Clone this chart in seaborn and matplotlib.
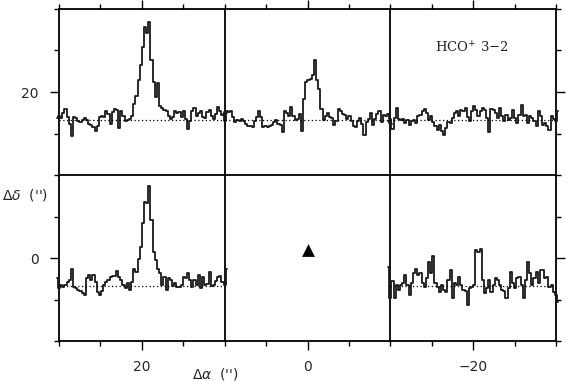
import numpy as np
import pandas as pd
import matplotlib
matplotlib.use("Agg")
import matplotlib.pyplot as plt
from matplotlib.ticker import FixedLocator, MultipleLocator
import seaborn as sns

sns.set_style("ticks")
plt.rcParams['font.family'] = ['DejaVu Sans']

# ---------------- data ----------------
x_major = [20, 0, -20]
y_major = [0, 20]
x_label = r"$\Delta\alpha$  ('')"
y_label = r"$\Delta\delta$  ('')"
line_label = "HCO$^{+}$ 3\u22122"

# panel centres (offsets in arcsec)
panel_ra = [20, 0, -20, 20, -20]
panel_dec = [20, 20, 20, 0, 0]
panel_names = ["tl", "tm", "tr", "bl", "br"]

source_ra = [0]
source_dec = [1]

spec_tl = [0.03, 0.07, 0.03, 0.12, 0.19, 0.04, -0.08, -0.29, 0.05, 0.03,
           -0.02, -0.05, -0.01, 0.03, -0.01, -0.07, -0.09, -0.14, -0.21, -0.11,
           0.04, 0.07, 0.05, 0.15, 0.10, -0.07, 0.13, 0.19, 0.18, -0.15,
           0.15, 0.07, -0.02, -0.01, 0.01, 0.07, 0.28, 0.42, 0.71, 0.98,
           1.32, 1.68, 1.56, 1.76, 1.08, 0.68, 0.41, 0.66, 0.24, 0.21,
           0.18, 0.15, 0.07, 0.01, 0.05, 0.16, 0.12, 0.13, 0.05, 0.15,
           0.01, -0.17, -0.03, 0.16, 0.21, 0.07, 0.12, 0.15, 0.05, 0.03,
           0.13, 0.18, 0.07, 0.01, 0.10, 0.22, 0.15, 0.09, -0.02, 0.12]
spec_tm = [0.10, 0.13, 0.16, 0.13, 0.16, 0.04, -0.05, -0.01, -0.03, 0.01,
           -0.03, -0.07, -0.11, -0.11, -0.13, -0.03, 0.04, 0.16, 0.04, -0.13,
           -0.11, -0.13, -0.12, -0.09, -0.05, -0.01, -0.07, -0.09, -0.23, 0.16,
           0.12, 0.07, 0.22, 0.07, -0.01, 0.01, 0.10, -0.20, 0.38, 0.68,
           0.71, 0.74, 0.80, 1.07, 0.71, 0.56, 0.19, -0.01, 0.07, 0.12,
           0.04, 0.03, -0.09, -0.02, 0.19, 0.15, 0.10, 0.09, 0.01, 0.07,
           -0.03, -0.11, -0.14, -0.02, 0.03, -0.07, -0.27, -0.05, 0.01, 0.12,
           -0.09, 0.01, 0.10, 0.16, -0.05, 0.09, 0.07, 0.10, 0.01, -0.07]
spec_tr = [-0.03, -0.06, -0.16, 0.03, 0.21, 0.02, 0.00, 0.02, -0.06, 0.00,
           -0.09, -0.02, 0.00, -0.06, 0.06, 0.09, 0.15, 0.20, 0.12, 0.00,
           0.06, -0.04, -0.12, -0.18, -0.09, -0.21, -0.28, -0.15, -0.04, -0.06,
           0.03, 0.12, 0.16, 0.06, 0.18, 0.15, 0.21, 0.04, -0.03, 0.15,
           0.24, 0.18, 0.06, 0.15, 0.21, 0.18, 0.03, -0.22, 0.20, 0.18,
           0.12, 0.03, 0.21, 0.06, -0.03, 0.09, 0.00, 0.03, 0.18, 0.03,
           -0.06, 0.09, 0.26, 0.06, 0.08, -0.06, 0.06, 0.03, -0.03, -0.12,
           0.15, 0.06, -0.09, -0.06, -0.12, -0.18, 0.06, 0.02, -0.03, 0.15]
spec_bl = [0.13, -0.05, 0.01, -0.03, 0.01, 0.07, 0.10, 0.31, -0.02, -0.05,
           -0.07, -0.09, -0.14, -0.17, 0.13, 0.19, 0.10, 0.19, 0.07, -0.11,
           -0.17, -0.09, 0.01, 0.07, 0.11, 0.15, 0.17, 0.17, 0.27, 0.16,
           0.10, 0.01, -0.05, 0.04, -0.07, 0.07, 0.30, 0.25, 0.49, 0.70,
           1.13, 1.52, 1.50, 1.80, 1.19, 0.61, 0.46, 0.30, 0.22, 0.01,
           0.16, -0.07, 0.13, 0.10, -0.01, 0.04, -0.03, -0.02, 0.01, 0.16,
           0.13, 0.22, 0.10, -0.02, 0.10, 0.01, 0.19, -0.05, 0.16, 0.01,
           0.03, 0.25, -0.01, 0.01, 0.09, 0.16, 0.17, 0.07, 0.01, 0.30]
spec_br = [0.34, -0.23, 0.09, -0.23, 0.01, -0.07, 0.01, 0.04, 0.19, 0.01,
           -0.17, 0.04, 0.22, 0.31, 0.19, 0.22, 0.04, -0.02, 0.13, 0.43,
           0.23, 0.54, 0.04, -0.02, -0.11, 0.01, -0.08, -0.11, 0.10, 0.28,
           -0.23, 0.04, 0.01, 0.16, 0.01, -0.08, -0.09, -0.35, -0.05, -0.02,
           0.01, 0.64, 0.60, 0.67, 0.10, -0.14, -0.05, 0.10, -0.11, 0.01,
           0.13, 0.10, 0.01, -0.08, -0.09, -0.23, -0.05, 0.25, 0.05, -0.05,
           0.13, 0.16, 0.01, -0.23, 0.10, 0.43, 0.22, 0.01, 0.13, 0.25,
           0.04, 0.28, 0.28, 0.13, 0.16, -0.02, 0.01, -0.11, -0.17, -0.29]
spectra = [spec_tl, spec_tm, spec_tr, spec_bl, spec_br]

# velocity axis of the spectra (km/s)
v_start = -20.0
v_step = 0.5
t_range = (-1.0, 2.0)

# ---------------- figure ----------------
fig = plt.figure(figsize=(5.66, 3.82), dpi=100)
ax = fig.add_axes([59 / 566, 41 / 382, 497 / 566, 332 / 382])
ax.set_xlim(30, -30)
ax.set_ylim(-10, 30)

for s in ax.spines.values():
    s.set_linewidth(1.3)
    s.set_color("black")

ax.xaxis.set_major_locator(FixedLocator(x_major))
ax.xaxis.set_minor_locator(MultipleLocator(5))
ax.yaxis.set_major_locator(FixedLocator(y_major))
ax.yaxis.set_minor_locator(MultipleLocator(5))
ax.tick_params(which="both", direction="out", top=True, right=True,
               labeltop=False, labelright=False, color="black", width=1.0)
ax.tick_params(which="major", length=6.5, labelsize=10)
ax.tick_params(which="minor", length=3.3)
ax.tick_params(axis="x", which="major", pad=7)
ax.tick_params(axis="y", which="major", pad=8)

# panel dividers
for xv in (10, -10):
    ax.axvline(xv, color="black", lw=1.3, zorder=3)
ax.axhline(10, color="black", lw=1.3, zorder=3)

# source marker
sns.scatterplot(x=source_ra, y=source_dec, marker="^", s=85, color="black",
                linewidth=0, ax=ax, zorder=4)

ax.set_xlabel(x_label, fontsize=10)
ax.xaxis.set_label_coords(0.314, -0.074)
ax.set_ylabel(y_label, fontsize=10, rotation=0, ha="center", va="center")
ax.yaxis.set_label_coords(-0.068, 0.44)

xl = ax.get_xlim()
yl = ax.get_ylim()
pw = 20 / abs(xl[1] - xl[0])
ph = 20 / abs(yl[1] - yl[0])

for name, ra, dec, spec in zip(panel_names, panel_ra, panel_dec, spectra):
    fx = (xl[0] - (ra + 10)) / (xl[0] - xl[1])
    fy = ((dec - 10) - yl[0]) / (yl[1] - yl[0])
    ia = ax.inset_axes([fx, fy, pw, ph])
    ia.patch.set_alpha(0)
    vel = v_start + v_step * np.arange(len(spec))
    df = pd.DataFrame({"v": vel, "T": spec})
    sns.lineplot(data=df, x="v", y="T", drawstyle="steps-mid", estimator=None,
                 color="#1a1a1a", lw=1.3, ax=ia, clip_on=False)
    ia.axhline(0, color="black", lw=0.9, ls=(0, (1, 2)))
    ia.set_xlim(vel[0] + v_step, vel[-1] - v_step)
    ia.set_ylim(*t_range)
    ia.set_xticks([])
    ia.set_yticks([])
    ia.set_xlabel("")
    ia.set_ylabel("")
    ia.set_axis_off()
    if name == "tr":
        ia.text(0.49, 0.765, line_label, transform=ia.transAxes, ha="center",
                va="center", fontsize=9.5, family="DejaVu Serif")

fig.savefig("out.png", dpi=100)
